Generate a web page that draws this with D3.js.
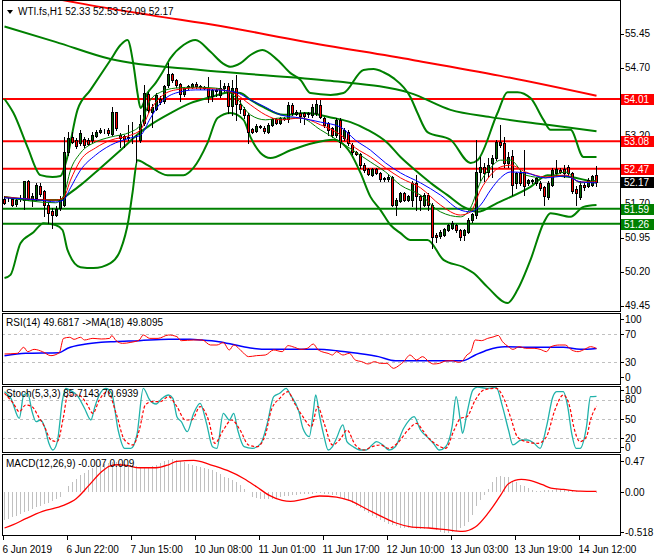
<!DOCTYPE html>
<html>
<head>
<meta charset="utf-8">
<script src="https://cdn.jsdelivr.net/npm/d3@7"></script>
<style>
body { margin: 0; background: #fff; }
text { font-family: "Liberation Sans", Arial, sans-serif; font-size: 10px; }
</style>
</head>
<body>
<svg id="chart" width="660" height="560"></svg>
<script>
// ---- data ----
var symbol = "WTI.fs,H1";
var lastBar = [52.33, 52.53, 52.09, 52.17];

var opens = [51.80,51.80,51.80,51.69,51.82,51.78,52.19,51.80,51.82,52.09,
  51.97,51.67,51.53,51.45,51.60,51.67,52.85,53.18,53.11,53.03,
  53.12,53.11,53.11,53.19,53.28,53.31,53.33,53.24,53.72,53.22,
  53.19,53.16,53.14,53.14,53.11,53.47,54.12,53.73,53.80,54.02,
  53.97,54.32,54.56,54.43,54.33,54.11,54.27,54.28,54.34,54.29,
  54.27,54.26,54.08,54.21,54.10,54.25,54.30,53.86,54.25,53.90,
  53.78,53.66,53.35,53.31,53.41,53.38,53.29,53.44,53.56,53.47,
  53.57,53.56,53.88,53.68,53.71,53.69,53.69,53.66,53.69,53.88,
  53.58,53.47,53.36,53.22,53.55,53.14,53.29,53.00,52.85,52.80,
  52.55,52.46,52.33,52.46,52.37,52.26,52.24,52.28,51.67,51.75,
  51.94,51.78,51.78,52.15,51.86,51.67,51.89,51.67,51.01,50.99,
  51.01,51.12,51.16,51.23,51.12,51.01,51.08,51.33,51.45,52.41,
  52.52,52.41,52.59,52.70,53.07,53.03,52.59,52.75,52.15,52.37,
  52.41,52.15,52.20,52.15,52.16,52.06,51.84,52.11,52.38,52.44,
  52.46,52.50,52.37,52.02,51.84,52.11,52.09,52.11,52.33];
var highs = [51.86,51.84,51.82,51.80,51.89,52.21,52.22,51.93,52.15,52.15,
  52.00,51.71,51.60,51.64,51.86,53.18,53.29,53.29,53.14,53.33,
  53.18,53.14,53.29,53.33,53.36,53.34,53.36,53.84,53.73,53.25,
  53.22,53.44,53.51,53.22,53.66,54.32,54.17,53.91,54.14,54.08,
  54.32,54.80,54.59,54.45,54.36,54.28,54.32,54.37,54.38,54.32,
  54.30,54.50,54.24,54.25,54.43,54.36,54.36,54.43,54.54,53.99,
  53.84,53.69,53.38,53.46,53.44,53.41,53.47,53.59,53.59,53.61,
  53.62,53.95,53.93,53.77,53.77,53.73,53.73,53.90,53.99,53.99,
  53.62,53.51,53.40,53.58,53.58,53.36,53.33,53.03,52.87,52.81,
  52.59,52.48,52.48,52.48,52.40,52.28,52.33,52.31,51.82,51.96,
  51.96,51.89,52.19,52.33,51.89,51.93,51.93,51.71,51.05,51.12,
  51.17,51.26,51.31,51.26,51.15,51.14,51.38,51.50,53.10,52.74,
  52.59,52.70,52.77,53.11,53.44,53.18,52.85,52.89,52.41,52.44,
  52.89,52.25,52.25,52.30,52.19,52.08,52.19,52.48,52.66,52.48,
  52.55,52.55,52.41,52.08,52.19,52.15,52.26,52.34,52.53];
var lows = [51.69,51.75,51.64,51.66,51.75,51.58,51.78,51.64,51.78,51.86,
  51.42,51.27,51.16,51.42,51.56,51.64,52.78,53.03,52.92,52.99,
  52.96,52.99,53.07,53.18,53.25,53.27,53.22,53.22,53.33,52.94,
  52.94,53.11,53.03,52.63,53.07,53.44,53.73,53.40,53.77,53.91,
  53.93,54.28,54.39,54.28,53.97,54.08,54.23,54.25,54.26,54.23,
  54.22,53.95,53.97,54.07,54.06,54.19,53.69,53.66,53.55,53.69,
  53.58,53.03,53.26,53.29,53.36,53.27,53.27,53.42,53.45,53.45,
  53.55,53.51,53.66,53.65,53.51,53.46,53.62,53.62,53.66,53.58,
  53.40,53.22,53.18,53.18,52.96,53.10,53.00,52.80,52.78,52.48,
  52.41,52.33,52.31,52.35,52.19,52.21,52.19,51.64,51.45,51.73,
  51.75,51.75,51.64,51.56,51.56,51.64,51.56,50.72,50.86,50.95,
  50.99,51.10,51.14,51.08,50.90,50.90,51.05,51.30,51.38,52.22,
  52.19,52.30,52.30,52.67,52.96,52.52,52.52,51.89,52.04,52.11,
  51.89,52.11,52.16,52.12,52.00,51.67,51.80,52.08,52.33,52.37,
  52.30,52.33,51.93,51.67,51.80,52.00,52.06,52.08,52.09];
var closes = [51.72,51.81,51.67,51.78,51.82,52.19,51.80,51.87,52.11,51.92,
  51.67,51.49,51.45,51.58,51.78,52.85,53.16,53.07,52.97,53.25,
  52.99,53.02,53.22,53.29,53.33,53.31,53.27,53.72,53.36,53.14,
  53.13,53.17,53.15,53.15,53.46,54.14,53.77,53.84,54.10,53.95,
  54.30,54.56,54.43,54.32,54.11,54.25,54.29,54.34,54.29,54.27,
  54.26,54.08,54.21,54.18,54.25,54.30,53.86,54.25,53.91,53.78,
  53.66,53.29,53.29,53.41,53.39,53.30,53.44,53.56,53.47,53.58,
  53.59,53.88,53.71,53.73,53.63,53.63,53.68,53.84,53.90,53.62,
  53.44,53.33,53.22,53.55,53.07,53.33,53.03,52.83,52.80,52.55,
  52.44,52.36,52.46,52.37,52.24,52.24,52.28,51.67,51.78,51.93,
  51.78,51.86,52.15,51.86,51.78,51.89,51.67,50.97,50.97,51.08,
  51.14,51.23,51.28,51.12,50.97,51.11,51.34,51.47,52.41,52.52,
  52.37,52.55,52.70,53.07,53.00,52.59,52.74,52.11,52.37,52.15,
  52.08,52.22,52.22,52.26,52.04,51.87,52.15,52.44,52.46,52.40,
  52.38,52.37,51.97,51.93,52.11,52.06,52.22,52.31,52.17];

// indicator lines as [bar, value]
var bbUpper = [[0,54.01],[2.25,53.70],[5.75,52.95],[9,52.33],[12,52.29],[14,52.31],[15.5,52.66],[18.25,53.77],
  [21.5,54.21],[26.5,54.87],[29,55.20],[30.75,55.31],[32.25,54.76],[33.25,54.14],[34,53.81],[35.75,54.14],
  [37.75,54.36],[39.5,54.60],[41.5,54.91],[44.75,55.20],[47.75,55.31],[51.5,55.05],[54.5,54.80],[56.5,54.72],
  [59,54.80],[61.5,54.98],[64.5,55.09],[68.25,54.87],[71.5,54.58],[74,54.43],[76.5,54.14],[81.5,54.10],
  [84.75,54.14],[89.75,54.65],[92.25,54.67],[94.75,54.60],[97.25,54.47],[101.5,54.05],[103.25,53.70],
  [105.75,53.28],[111.5,53.11],[116.5,52.60],[118.25,52.66],[123.25,53.70],[125.75,54.16],[128.25,54.16],
  [131.5,54.03],[134.75,53.55],[136.5,53.33],[141.5,53.33],[144.75,52.73],[148,52.73]];
var bbMiddle = [[0,51.85],[9,51.78],[14,51.78],[14.75,51.83],[19,52.11],[24,52.49],[29,52.88],[34,53.28],
  [36.5,53.44],[41.5,53.70],[46.5,53.92],[51.5,54.05],[56.5,54.16],[59,54.14],[61.5,53.99],[64.75,53.83],
  [69.75,53.66],[75.25,53.70],[82.25,53.59],[86.5,53.50],[90.75,53.33],[95.75,53.04],[99,52.73],
  [103.25,52.40],[107.25,52.11],[110.75,51.89],[114.75,51.63],[118.25,51.52],[123.25,51.72],[131.5,52.07],
  [135.75,52.33],[141.5,52.29],[148,52.16]];
var bbLower = [[0,50.06],[1.5,50.13],[4,50.83],[7.25,51.07],[9.75,51.27],[12.75,51.23],[14.5,51.12],
  [15.75,50.68],[19,50.30],[22.25,50.28],[26.5,50.39],[29,50.68],[31,51.34],[32,51.94],[33.25,52.66],
  [35.75,52.55],[40.75,52.33],[44.75,52.33],[47.25,52.49],[50.75,53.04],[53.25,53.59],[56.5,53.70],
  [59.75,53.55],[61.5,53.17],[64,52.82],[66.5,52.71],[71.5,52.88],[77.25,53.04],[82.25,53.11],[84,53.06],
  [86.5,52.82],[89,52.38],[91.5,51.85],[94,51.56],[96.5,51.23],[99,51.05],[101.5,50.90],[105.75,50.90],
  [109.75,50.46],[114.75,50.30],[117.25,50.17],[120.75,49.86],[125.75,49.51],[128.25,49.80],[131.5,50.46],
  [134.75,51.27],[136.5,51.49],[141.5,51.41],[144.75,51.63],[148,51.67]];
var maSlowGreen = [[0,55.61],[12.75,55.27],[26.5,54.89],[49,54.65],[64,54.54],[81.5,54.41],[101.5,54.14],
  [111.5,53.77],[121.5,53.61],[135.75,53.44],[148,53.30]];
var maSlowRed = [[0,56.45],[18.25,56.13],[36.5,55.86],[54,55.62],[74,55.29],[102,54.87],[124,54.52],[148,54.08]];
var maFastGreen = [[0,51.85],[12.75,51.72],[14.75,51.87],[16.5,52.44],[19,52.82],[22.75,53.06],[26.5,53.17],
  [31.5,53.28],[34,53.44],[36.5,53.99],[39,54.16],[42.75,54.25],[47.75,54.27],[52.75,54.25],[57.75,54.05],
  [61.5,53.66],[65.25,53.55],[69,53.59],[74,53.59],[79,53.33],[84,53.06],[87.75,52.84],[91.5,52.62],
  [95.25,52.40],[99,52.11],[104,51.89],[109,51.52],[114,51.41],[116.5,51.61],[119,52.18],[121.5,52.49],
  [124,52.66],[126.5,52.66],[130.25,52.33],[135.25,52.27],[140.25,52.40],[144,52.16],[148,52.22]];
var maFastRed = [[0,51.85],[12.75,51.78],[14.75,51.83],[16.5,52.22],[19,52.66],[22.75,52.93],[26.5,53.10],
  [31.5,53.21],[34,53.33],[36.5,53.77],[39,54.05],[42.75,54.21],[47.75,54.25],[52.75,54.23],[57.75,54.12],
  [61.5,53.88],[65.25,53.66],[69,53.55],[74,53.59],[79,53.44],[84,53.22],[87.75,52.93],[91.5,52.73],
  [95.25,52.49],[99,52.27],[104,52.05],[109,51.67],[114,51.45],[116.5,51.52],[119,52.00],[121.5,52.33],
  [124,52.51],[126.5,52.55],[130.25,52.40],[135.25,52.29],[140.25,52.33],[144,52.18],[148,52.18]];
var maFastBlue = [[0,51.83],[9,51.78],[12.75,51.74],[14.75,51.78],[16.5,52.05],[19,52.44],[22.75,52.77],
  [26.5,52.99],[31.5,53.15],[34,53.21],[36.5,53.59],[39,53.92],[42.75,54.14],[47.75,54.21],[52.75,54.21],
  [57.75,54.16],[61.5,53.99],[65.25,53.83],[69,53.66],[74,53.59],[79,53.50],[84,53.39],[87.75,53.10],
  [91.5,52.88],[95.25,52.60],[99,52.38],[104,52.16],[109,51.89],[114,51.56],[116.5,51.52],[119,51.67],
  [121.5,52.00],[124,52.27],[126.5,52.40],[130.25,52.38],[135.25,52.27],[140.25,52.31],[144,52.18],[148,52.16]];

var levelsRed = [54.01, 53.08, 52.47];
var levelsGreen = [51.59, 51.26];
var priceTicks = [55.45, 54.70, 53.95, 53.20, 52.45, 51.70, 50.95, 50.20, 49.45];

var rsiLine = [[0,41.9],[3.2,42.8],[4.8,51.4],[5.8,45.2],[7.4,48.5],[9.5,45.2],[11.6,39.5],[13.7,43.8],
  [14.75,64.2],[16.3,65.7],[17.4,62.8],[19,65.7],[20,61.9],[22.1,64.2],[24.2,63.3],[26.3,64.2],[26.8,68.1],
  [27.9,60.9],[29.5,57.1],[31.6,58.5],[33.7,61.9],[34.7,69.0],[36.3,64.2],[38.4,64.2],[41,69.0],[43.1,66.6],
  [44.2,60.9],[47.3,61.9],[49.4,61.9],[51.5,54.7],[53.1,54.7],[54.7,58.1],[56.2,47.6],[57.3,54.7],[59.4,45.2],
  [61,38.1],[63,39.5],[65.2,40.4],[67.3,47.6],[69.4,45.2],[70.9,53.8],[72.5,51.4],[74.1,48.5],[75.7,50.0],
  [77.2,56.1],[78.3,48.5],[79.3,45.2],[80.9,42.8],[82,40.4],[83,45.2],[84.6,40.4],[86.2,42.8],[87.7,33.3],
  [89.3,30.9],[90.9,27.6],[92.5,30.9],[94,28.5],[95.6,28.5],[97.2,21.4],[98.8,26.2],[99.8,30.9],[101.4,40.4],
  [103,33.3],[104.5,38.1],[106.1,30.9],[107.2,27.6],[108.7,28.5],[110.3,31.9],[111.9,32.3],[113.5,30.0],
  [114.5,32.3],[115.6,40.4],[116.6,45.2],[117.7,61.9],[119.2,60.9],[120.8,64.2],[122.4,66.6],[123.4,68.5],
  [124.5,59.5],[126,52.3],[127.1,48.5],[128.7,52.3],[130.3,50.0],[132.4,50.0],[133.9,48.5],[135.5,45.2],
  [136.6,52.3],[138.7,54.7],[140.2,54.7],[141.8,47.6],[143.4,45.2],[145,48.5],[146.5,52.3],[148,49.68]];
var rsiMa = [[0,39.5],[5.3,42.8],[13.7,43.8],[15.8,50.0],[20,55.7],[24.2,58.5],[27.4,59.5],[33.7,60.9],
  [41,62.8],[46.3,62.8],[49.4,61.9],[53.6,59.5],[57.8,54.7],[62,50.0],[66.2,48.5],[72.5,48.5],[77.8,48.5],
  [83,46.6],[88.3,42.8],[93.5,38.1],[97.7,32.3],[104,32.3],[109.3,32.3],[114.5,32.3],[117.7,40.4],
  [120.8,47.6],[125,52.3],[131.3,51.4],[135.5,51.4],[139.7,51.4],[143.9,48.5],[148,49.81]];

var stochMain = [[0,93.0],[1.6,82.6],[3.7,51.3],[4.8,87.8],[5.8,90.4],[6.9,61.7],[7.9,46.1],[9,48.7],
  [10,38.3],[11.1,12.2],[12.1,1.7],[13.2,14.8],[14.5,80.0],[15.3,98.3],[16.3,95.6],[18.4,85.2],[20,67.0],
  [21.6,48.7],[22.6,69.6],[23.7,87.8],[25.3,98.3],[26.8,90.4],[28.4,33.0],[30,4.3],[31.6,4.3],[33.1,25.2],
  [34.7,98.3],[36.3,80.0],[37.9,73.7],[39.4,82.6],[41,87.8],[42.1,82.6],[43.1,53.9],[44.2,46.1],[45.7,30.4],
  [47.3,59.1],[48.9,74.8],[50.5,43.5],[52,6.9],[53.1,4.3],[54.7,59.1],[56.2,48.7],[57.3,59.1],[58.3,33.0],
  [59.9,6.9],[62,4.3],[64.1,12.2],[65.7,43.5],[67.3,85.2],[68.8,90.4],[70.4,98.3],[71.5,87.8],[73.6,61.7],
  [74.6,35.7],[76.2,22.6],[77.2,61.7],[77.8,87.8],[78.8,53.9],[79.9,22.6],[80.9,1.7],[82,6.9],[83,20.0],
  [84.6,40.9],[85.6,14.8],[87.2,6.9],[88.8,1.7],[90.4,1.7],[91.9,9.6],[93,14.8],[94.6,9.6],[96.1,1.7],
  [97.7,6.9],[99.8,35.7],[102.4,53.9],[104,33.0],[105.6,22.6],[107.2,12.2],[108.7,1.7],[110.3,6.9],
  [111.9,38.3],[112.9,85.2],[114,46.1],[114.5,27.8],[115.6,59.1],[117.1,95.6],[118.2,100],[120.8,98.3],
  [122.9,99.8],[124.5,69.6],[126,33.0],[127.1,9.6],[129.2,17.4],[130.8,17.4],[132.4,12.2],[133.9,4.3],
  [135.5,38.3],[137.1,85.2],[138.1,93.0],[139.7,93.0],[140.8,69.6],[141.8,27.8],[142.9,4.3],[143.9,4.3],
  [145.5,38.3],[146.5,85.2],[148,85.71]];
var stochSignal = [[0,90.4],[2.2,74.8],[3.7,61.7],[5.3,72.2],[6.9,69.6],[8.5,53.9],[10,38.3],[11.6,17.4],
  [13.2,14.8],[14.75,53.9],[15.8,87.8],[18.4,87.8],[20.5,74.8],[22.1,59.1],[23.7,80.0],[25.8,93.0],
  [27.9,59.1],[30,17.4],[32.1,9.6],[33.7,33.0],[35.2,72.2],[36.8,77.4],[38.9,77.4],[41,85.2],[43.1,69.6],
  [45.2,48.7],[46.8,48.7],[48.9,69.6],[51,48.7],[52.6,12.2],[54.7,33.0],[56.8,48.7],[58.9,33.0],[61,9.6],
  [63.1,6.9],[65.2,25.2],[66.7,64.3],[68.8,82.6],[70.9,93.0],[72.5,74.8],[74.6,53.9],[76.7,38.3],[78.3,69.6],
  [79.9,43.5],[82,9.6],[84.1,20.0],[85.6,33.0],[87.7,9.6],[89.8,1.7],[91.9,6.9],[94,9.6],[96.1,4.3],
  [98.2,12.2],[100.9,33.0],[103,43.5],[104.5,33.0],[106.1,20.0],[108.2,9.6],[110.3,4.3],[112.4,33.0],
  [114,51.3],[115.6,53.9],[117.7,80.0],[119.8,95.6],[122.9,98.3],[125,80.0],[126.6,51.3],[128.2,22.6],
  [130.3,14.8],[133.4,12.2],[135.5,22.6],[137.6,64.3],[139.7,87.8],[141.3,69.6],[142.3,38.3],[143.9,14.8],
  [145.5,22.6],[146.5,48.7],[148,70.69]];

var macdMain = [-0.35,-0.33,-0.31,-0.29,-0.27,-0.25,-0.23,-0.21,-0.19,-0.17,
  -0.15,-0.13,-0.11,-0.09,-0.06,0.00,0.08,0.12,0.16,0.21,
  0.24,0.27,0.30,0.33,0.35,0.35,0.36,0.37,0.37,0.36,
  0.35,0.34,0.33,0.32,0.31,0.31,0.31,0.32,0.34,0.36,
  0.38,0.39,0.41,0.40,0.38,0.37,0.35,0.33,0.32,0.31,
  0.30,0.29,0.27,0.25,0.22,0.19,0.17,0.15,0.12,0.09,
  0.04,0.00,-0.06,-0.07,-0.08,-0.09,-0.09,-0.08,-0.07,-0.06,
  -0.05,-0.05,-0.04,-0.04,-0.03,-0.03,-0.02,-0.02,-0.01,-0.01,
  -0.02,-0.03,-0.04,-0.04,-0.06,-0.08,-0.11,-0.14,-0.17,-0.20,
  -0.23,-0.26,-0.29,-0.32,-0.35,-0.37,-0.39,-0.41,-0.42,-0.44,
  -0.44,-0.45,-0.45,-0.46,-0.46,-0.46,-0.45,-0.46,-0.47,-0.49,
  -0.50,-0.50,-0.49,-0.48,-0.45,-0.42,-0.37,-0.28,-0.17,-0.10,
  -0.04,0.04,0.12,0.19,0.20,0.19,0.18,0.14,0.12,0.09,
  0.07,0.05,0.03,0.01,0.01,0.02,0.03,0.03,0.04,0.04,
  0.04,0.03,0.02,0.01,0.00,0.00,0.00,-0.005,-0.007];
var macdSignal = [[0,-0.444],[2.2,-0.403],[5.3,-0.329],[9.5,-0.239],[14.75,-0.165],[17.9,-0.082],
  [21.1,0.082],[24.2,0.247],[26.3,0.321],[28.4,0.337],[30.5,0.329],[33.7,0.300],[37.9,0.300],[41,0.337],
  [43.1,0.379],[47.3,0.391],[51.5,0.337],[55.7,0.267],[59.9,0.165],[63.1,0.062],[66.2,-0.041],[69.4,-0.103],
  [71.5,-0.115],[74.6,-0.091],[78.8,-0.049],[83,-0.062],[86.2,-0.103],[90.4,-0.206],[94.6,-0.309],
  [97.7,-0.379],[101.9,-0.432],[106.1,-0.444],[110.3,-0.465],[114.5,-0.486],[117.7,-0.432],[120.8,-0.267],
  [124,-0.041],[126,0.103],[129.2,0.156],[131.3,0.144],[134.5,0.091],[136.6,0.049],[139.7,0.033],
  [143.9,0.012],[148,0.009]];

var timeLabels = ["6 Jun 2019","6 Jun 22:00","7 Jun 15:00","10 Jun 08:00","11 Jun 01:00",
  "11 Jun 17:00","12 Jun 10:00","13 Jun 03:00","13 Jun 19:00","14 Jun 12:00"];
var timeBars = [0,16,32,48,64,80,96,112,128,144];

// ---- layout ----
var svg = d3.select("#chart");
var left = 2, right = 620;
var panels = {
  main: [0, 311], rsi: [313, 384], stoch: [386, 452], macd: [454, 535]
};

var x = d3.scaleLinear().domain([0, 148]).range([4, 596]);
var xc = function(i) { return x(i) + 0.5; };
var yPrice = d3.scaleLinear().domain([49.45, 55.45]).range([305.7, 33.7]);
var yRsi = d3.scaleLinear().domain([0, 100]).range([383.3, 313.3]);
var yStoch = d3.scaleLinear().domain([0, 100]).range([451.1, 387.2]);
var yMacd = d3.scaleLinear().domain([-0.518, 0.47]).range([534, 454]);

var defs = svg.append("defs");
Object.keys(panels).forEach(function(k) {
  var p = panels[k];
  defs.append("clipPath").attr("id", "clip-" + k)
    .append("rect").attr("x", left + 1).attr("y", p[0] + 1)
    .attr("width", right - left - 1).attr("height", p[1] - p[0] - 1);
});

function layer(k) {
  return svg.append("g").attr("clip-path", "url(#clip-" + k + ")");
}

function drawLine(g, data, yS, color, width, dash) {
  var line = d3.line().x(function(d) { return xc(d[0]); })
    .y(function(d) { return yS(d[1]); })
    .curve(d3.curveMonotoneX);
  g.append("path").datum(data).attr("d", line)
    .attr("fill", "none").attr("stroke", color).attr("stroke-width", width)
    .attr("stroke-dasharray", dash || null);
}

// ---- main panel ----
var main = layer("main");

// current price line
main.append("line").attr("x1", left).attr("x2", right)
  .attr("y1", Math.round(yPrice(lastBar[3])) + 0.5).attr("y2", Math.round(yPrice(lastBar[3])) + 0.5)
  .attr("stroke", "#c0c0c0").attr("stroke-width", 1);

// horizontal levels
levelsRed.forEach(function(v) {
  main.append("line").attr("x1", left).attr("x2", right)
    .attr("y1", yPrice(v)).attr("y2", yPrice(v))
    .attr("stroke", "#ff0000").attr("stroke-width", 2);
});
levelsGreen.forEach(function(v) {
  main.append("line").attr("x1", left).attr("x2", right)
    .attr("y1", yPrice(v)).attr("y2", yPrice(v))
    .attr("stroke", "#008000").attr("stroke-width", 2);
});

// slow averages and bands
drawLine(main, maSlowRed, yPrice, "#ff0000", 2);
drawLine(main, maSlowGreen, yPrice, "#008000", 2);
drawLine(main, bbUpper, yPrice, "#008000", 2);
drawLine(main, bbLower, yPrice, "#008000", 2);
drawLine(main, bbMiddle, yPrice, "#008000", 2);

// candles
var bars = d3.range(opens.length);
var candles = main.append("g").attr("shape-rendering", "crispEdges");
candles.selectAll("line.wick").data(bars).enter().append("line")
  .attr("x1", xc).attr("x2", xc)
  .attr("y1", function(i) { return Math.round(yPrice(highs[i])); })
  .attr("y2", function(i) { return Math.round(yPrice(lows[i])) + 1; })
  .attr("stroke", "#000").attr("stroke-width", 1);
candles.selectAll("rect.body").data(bars).enter().append("rect")
  .attr("x", function(i) { return x(i) - 0.5; })
  .attr("y", function(i) { return Math.round(yPrice(Math.max(opens[i], closes[i]))) + 0.5; })
  .attr("width", 2)
  .attr("height", function(i) {
    var a = Math.round(yPrice(Math.max(opens[i], closes[i])));
    var b = Math.round(yPrice(Math.min(opens[i], closes[i])));
    return Math.max(b - a, 0);
  })
  .attr("fill", function(i) { return closes[i] >= opens[i] ? "#006400" : "#ff0000"; })
  .attr("stroke", "#000").attr("stroke-width", 1);

// fast averages
drawLine(main, maFastGreen, yPrice, "#008000", 1);
drawLine(main, maFastRed, yPrice, "#ff0000", 1);
drawLine(main, maFastBlue, yPrice, "#0000ff", 1);

// header
svg.append("path").attr("d", "M7,10 L13,10 L10,14 Z").attr("fill", "#000");
svg.append("text").attr("x", 18).attr("y", 15).attr("fill", "#000")
  .text(symbol + "  " + lastBar.map(function(v) { return v.toFixed(2); }).join(" "));

// ---- RSI ----
var rsi = layer("rsi");
[70, 30].forEach(function(v) {
  rsi.append("line").attr("x1", left).attr("x2", right)
    .attr("y1", Math.round(yRsi(v)) + 0.5).attr("y2", Math.round(yRsi(v)) + 0.5)
    .attr("stroke", "#c0c0c0").attr("stroke-dasharray", "3,3");
});
drawLine(rsi, rsiMa, yRsi, "#0000ff", 1.5);
drawLine(rsi, rsiLine, yRsi, "#ff0000", 1);
svg.append("text").attr("x", 6).attr("y", 326).text("RSI(14) 49.6817  ->MA(18) 49.8095");

// ---- Stochastic ----
var st = layer("stoch");
[80, 50, 20].forEach(function(v) {
  st.append("line").attr("x1", left).attr("x2", right)
    .attr("y1", Math.round(yStoch(v)) + 0.5).attr("y2", Math.round(yStoch(v)) + 0.5)
    .attr("stroke", "#c0c0c0").attr("stroke-dasharray", "3,3");
});
drawLine(st, stochMain, yStoch, "#20b2aa", 1.3);
drawLine(st, stochSignal, yStoch, "#ff0000", 1.2, "3,2");
svg.append("text").attr("x", 6).attr("y", 397).text("Stoch(5,3,3) 85.7143 70.6939");

// ---- MACD ----
var md = layer("macd");
md.append("g").attr("shape-rendering", "crispEdges")
  .selectAll("line").data(bars).enter().append("line")
  .attr("x1", xc).attr("x2", xc)
  .attr("y1", yMacd(0))
  .attr("y2", function(i) { return yMacd(macdMain[i]); })
  .attr("stroke", "#c0c0c0").attr("stroke-width", 1);
drawLine(md, macdSignal, yMacd, "#ff0000", 1.3);
svg.append("text").attr("x", 6).attr("y", 467).text("MACD(12,26,9) -0.007 0.009");

// ---- frames ----
Object.keys(panels).forEach(function(k) {
  var p = panels[k];
  svg.append("rect").attr("x", left + 0.5).attr("y", p[0] + 0.5)
    .attr("width", right - left).attr("height", p[1] - p[0])
    .attr("fill", "none").attr("stroke", "#000").attr("stroke-width", 1)
    .attr("shape-rendering", "crispEdges");
});

// ---- right axes ----
var ax = svg.append("g");
function rightTick(y, label) {
  ax.append("line").attr("x1", right).attr("x2", right + 4)
    .attr("y1", Math.round(y) + 0.5).attr("y2", Math.round(y) + 0.5)
    .attr("stroke", "#000").attr("shape-rendering", "crispEdges");
  ax.append("text").attr("x", right + 5).attr("y", y + 3.5).text(label);
}
priceTicks.forEach(function(v) { rightTick(yPrice(v), v.toFixed(2)); });

function levelBox(v, color) {
  var y = yPrice(v);
  ax.append("rect").attr("x", right + 1).attr("y", Math.round(y) - 5).attr("width", 33).attr("height", 11)
    .attr("fill", color);
  ax.append("text").attr("x", right + 4).attr("y", Math.round(y) + 4).attr("fill", "#fff")
    .text(v.toFixed(2));
}
levelsRed.forEach(function(v) { levelBox(v, "#ff0000"); });
levelsGreen.forEach(function(v) { levelBox(v, "#008000"); });
levelBox(lastBar[3], "#000");

rightTick(yRsi(100) + 6, "100");
rightTick(yRsi(70), "70");
rightTick(yRsi(30), "30");
rightTick(yRsi(0) - 6, "0");

rightTick(yStoch(100) + 3, "100");
rightTick(yStoch(80), "80");
rightTick(yStoch(50), "50");
rightTick(yStoch(20), "20");
rightTick(yStoch(0) - 4, "0");

rightTick(yMacd(0.47) + 7, "0.47");
rightTick(yMacd(0), "0.00");
rightTick(yMacd(-0.518) - 2, "-0.518");

// ---- time axis ----
var tg = svg.append("g");
timeBars.forEach(function(b, k) {
  tg.append("line").attr("x1", xc(b) - 1).attr("x2", xc(b) - 1)
    .attr("y1", panels.macd[1] + 1).attr("y2", panels.macd[1] + 5)
    .attr("stroke", "#000").attr("shape-rendering", "crispEdges");
  tg.append("text").attr("x", xc(b) - 2).attr("y", 553).text(timeLabels[k]);
});
</script>
</body>
</html>
